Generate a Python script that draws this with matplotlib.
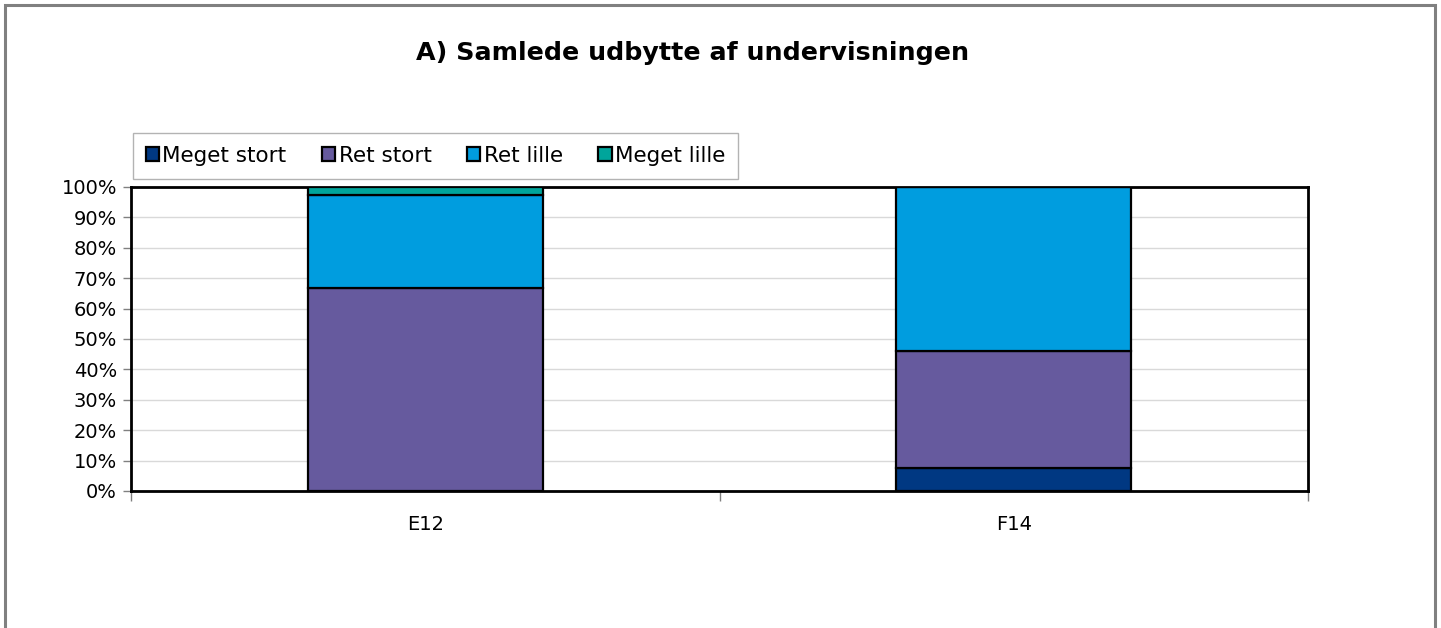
import matplotlib
matplotlib.use("Agg")
import matplotlib.pyplot as plt
import numpy as np
from matplotlib.patches import Rectangle

categories = ["E12", "F14"]
series_names = ["Meget stort", "Ret stort", "Ret lille", "Meget lille"]
meget_stort = [0.0, 7.7]
ret_stort = [66.7, 38.5]
ret_lille = [30.6, 53.8]
meget_lille = [2.7, 0.0]
colors = ["#003882", "#665a9e", "#009ddf", "#00a59b"]
title = "A) Samlede udbytte af undervisningen"

plt.rcParams['font.family'] = ['DejaVu Sans']

fig = plt.figure(figsize=(14.41, 6.28), dpi=100)
# outer frame
fig.patches.append(Rectangle((5/1441, -0.05), 1430/1441, 1 - 5/628 + 0.05,
                             transform=fig.transFigure, fill=False,
                             edgecolor="#808080", linewidth=2.2))

ax = fig.add_axes([131/1441, 1 - 491/628, (1308 - 131)/1441, (491 - 187)/628])

x = np.arange(len(categories))
bottom = np.zeros(len(categories))
handles = []
for name, vals, c in zip(series_names, [meget_stort, ret_stort, ret_lille, meget_lille], colors):
    vals = np.array(vals)
    b = ax.bar(x, vals, 0.4, bottom=bottom, color=c, edgecolor="black",
               linewidth=1.6, label=name, zorder=3)
    handles.append(b)
    bottom += vals

ax.set_xlim(-0.5, 1.5)
ax.set_ylim(0, 100)
ax.set_yticks(np.arange(0, 101, 10))
ax.set_yticklabels([f"{v}%" for v in range(0, 101, 10)], fontsize=14)
ax.yaxis.grid(True, color="#d9d9d9", linewidth=1, zorder=0)
ax.set_axisbelow(True)

ax.set_xticks([-0.5, 0.5, 1.5])
ax.set_xticklabels([])
ax.set_xticks(x, minor=True)
ax.set_xticklabels(categories, minor=True, fontsize=14)
ax.tick_params(axis="x", which="major", length=7, color="#808080", width=1)
ax.tick_params(axis="x", which="minor", length=0, pad=17)
ax.tick_params(axis="y", length=6, color="#808080", width=1, pad=4)

for s in ax.spines.values():
    s.set_linewidth(2)
    s.set_color("black")

fig.text(693/1441, 1 - 53/628, title, ha="center", va="center", fontsize=18.3, fontweight="bold")

leg = fig.legend(handles, series_names, loc="upper left",
                 bbox_to_anchor=(133/1441, 1 - 133/628), ncol=4, fontsize=15.5,
                 frameon=True, fancybox=False, edgecolor="#a0a0a0",
                 handlelength=0.62, handleheight=0.62, handletextpad=0.15,
                 columnspacing=1.65, borderpad=0.6, borderaxespad=0)
leg.get_frame().set_linewidth(1)

fig.savefig("out.png", dpi=100)
